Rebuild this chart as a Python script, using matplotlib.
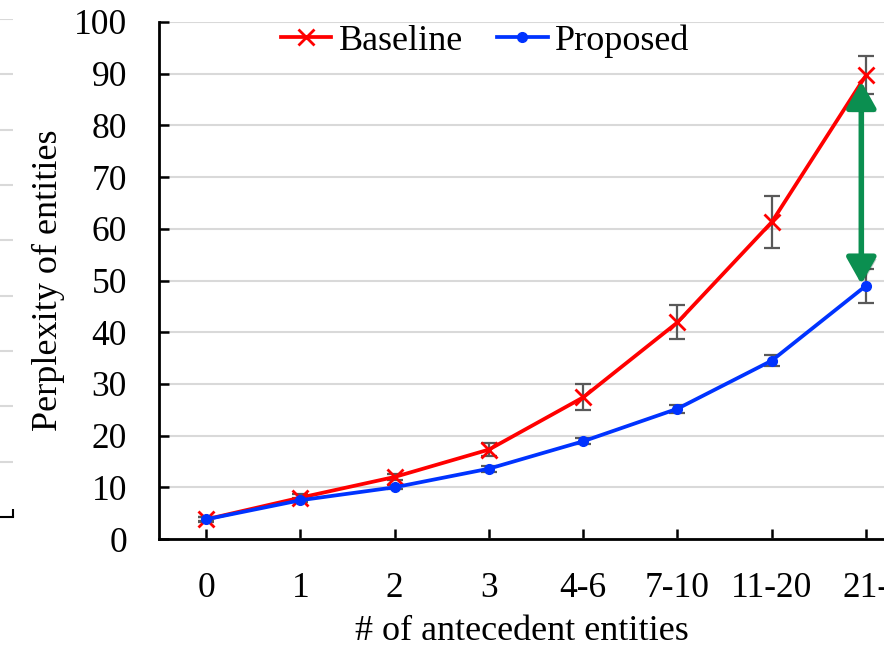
import numpy as np
import matplotlib.pyplot as plt
import matplotlib.patheffects as pe

plt.rcParams['font.family'] = ['Liberation Serif', 'DejaVu Serif']

# data
categories = ['0', '1', '2', '3', '4-6', '7-10', '11-20', '21-']
baseline = [3.8, 8.0, 12.0, 17.3, 27.4, 41.9, 61.3, 89.7]
baseline_err = [0.5, 0.8, 0.6, 1.2, 2.5, 3.3, 5.0, 3.7]
proposed = [3.8, 7.5, 10.0, 13.6, 18.9, 25.2, 34.5, 49.0]
proposed_err = [0.4, 0.4, 0.4, 0.6, 0.6, 0.8, 1.0, 3.3]

fig = plt.figure(figsize=(8.84, 6.47), dpi=100)

# remnant of the neighbouring panel at the left edge
ax0 = fig.add_axes([-0.2, (647 - 517) / 647, 0.2 + 13 / 884, (517 - 30) / 647 * 9 / 8.8])
ax0.set_ylim(0, 9)
ax0.set_xlim(0, 1)
ax0.set_yticks(np.arange(1, 10))
ax0.grid(axis='y', color='#d9d9d9', lw=1.5)
ax0.set_yticklabels([])
ax0.set_xticks([1])
ax0.set_xticklabels([])
ax0.tick_params(axis='x', direction='in', length=6, width=1.5)
ax0.tick_params(axis='y', length=0)
for s in ['top', 'left', 'right']:
    ax0.spines[s].set_visible(False)
ax0.spines['bottom'].set_linewidth(1.5)

ax = fig.add_axes([159 / 884, 1 - 539 / 647, 1 - 159 / 884 + 0.001, (539 - 22) / 647])
x = np.arange(len(categories))

ax.errorbar(x, baseline, yerr=baseline_err, fmt='none', ecolor='#595959',
            elinewidth=1.6, capsize=5.5, capthick=1.6, zorder=2)
ax.errorbar(x, proposed, yerr=proposed_err, fmt='none', ecolor='#595959',
            elinewidth=1.6, capsize=5.5, capthick=1.6, zorder=2)
ax.plot(x, baseline, color='#ff0000', lw=2.7, marker='x', ms=11, mew=2,
        label='Baseline', zorder=3)
ax.plot(x, proposed, color='#0033ff', lw=2.7, marker='o', ms=7,
        label='Proposed', zorder=3)

# green double arrow showing the gap at the last point
arr = ax.annotate('', xy=(x[-1] - 0.05, proposed[-1] + 0.3),
                  xytext=(x[-1] - 0.05, baseline[-1] - 1.2),
                  arrowprops=dict(arrowstyle='<|-|>,head_length=0.8,head_width=0.45',
                                  color='#0b8f50', lw=4, mutation_scale=20,
                                  shrinkA=0, shrinkB=0),
                  zorder=4)
arr.arrow_patch.set_path_effects([pe.SimplePatchShadow(offset=(2, -2), alpha=0.25),
                                  pe.Normal()])

ax.set_xlim(-0.5, 7.2)
ax.set_ylim(0, 100)
ax.set_yticks(np.arange(0, 101, 10))
ax.set_xticks(x)
ax.set_xticklabels(categories)
ax.grid(axis='y', color='#d9d9d9', lw=1.5, zorder=0)
ax.set_axisbelow(True)
ax.tick_params(axis='both', direction='in', length=7, width=1.8, labelsize=25.5)
ax.tick_params(axis='y', pad=23)
ax.tick_params(axis='x', pad=24)
for s in ['top', 'right']:
    ax.spines[s].set_visible(False)
ax.spines['left'].set_linewidth(2)
ax.spines['bottom'].set_linewidth(2)

ax.set_ylabel('Perplexity of entities', fontsize=26, labelpad=6)
ax.set_xlabel('# of antecedent entities', fontsize=26, labelpad=7)

ax.legend(loc='upper center', bbox_to_anchor=(485 / 884, 1 - 24 / 647),
          bbox_transform=fig.transFigure, ncol=2, frameon=False, fontsize=26,
          handlelength=1.4, handletextpad=0.2, columnspacing=0.95,
          borderpad=0, borderaxespad=0)

fig.savefig('out.png', dpi=100)
